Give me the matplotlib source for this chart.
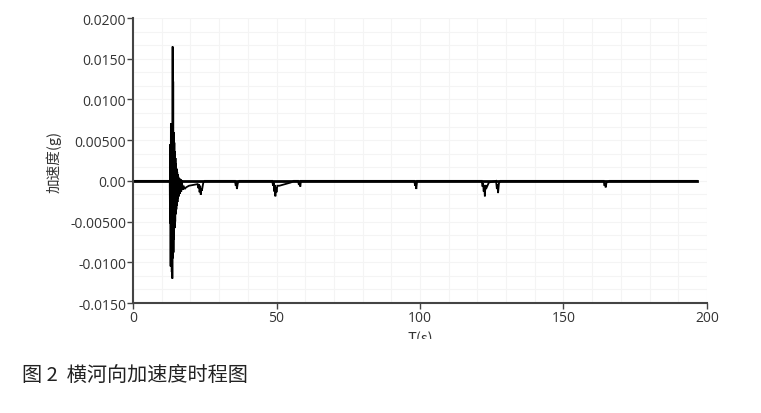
import matplotlib
matplotlib.use('Agg')
import matplotlib.pyplot as plt
from matplotlib.ticker import MultipleLocator, FixedLocator
from matplotlib.patches import Rectangle

plt.rcParams['font.family'] = ['Noto Sans CJK SC', 'DejaVu Sans']

# 时间 (s) 与加速度 (g)
t_vals = [0, 12.5, 12.8, 12.9, 13.0, 13.1, 13.2, 13.3, 13.4, 13.5, 13.6, 13.7, 13.8, 13.9,
          14.0, 14.1, 14.2, 14.3, 14.4, 14.5, 14.6, 14.7, 14.8, 14.9, 15.0, 15.1,
          15.2, 15.3, 15.4, 15.5, 15.6, 15.7, 15.8, 16.0, 16.2, 16.4, 16.6, 16.8,
          17.0, 17.3, 17.6, 18.0, 18.5, 19.5, 21.0, 22.5,
          22.8, 23.0, 23.2, 23.4, 23.6, 23.8, 24.0, 24.5,
          25.0, 35.5, 35.8, 36.0, 36.2, 36.5, 37.0,
          48.5, 48.8, 49.0, 49.2, 49.4, 49.6, 49.8, 50.0, 50.3, 51.0, 53.0, 55.0,
          56.0, 57.5, 57.8, 58.0, 58.3, 58.5,
          98.0, 98.3, 98.5, 98.7, 99.0,
          121.5, 121.8, 122.0, 122.2, 122.4, 122.6, 122.8, 123.0,
          124.0, 126.5, 126.8, 127.0, 127.2, 127.5, 128.0,
          164.0, 164.3, 164.5, 164.7, 165.0, 166.0, 196.5]
acc_vals = [0, 0, 0, -0.0052, 0.0045, -0.0105, 0.0071, -0.0098, 0.0058, -0.0112, 0.0049,
            -0.0120, 0.0165, -0.0095, 0.0122, -0.0088, 0.0060, -0.0072, 0.0047,
            -0.0058, 0.0036, -0.0050, 0.0028, -0.0041, 0.0021, -0.0035, 0.0015,
            -0.0030, 0.0011, -0.0026, 0.0008, -0.0022, 0.0005, -0.0019, 0.0003,
            -0.0016, 0.0002, -0.0013, 0.0001, -0.0011, -0.0006, -0.0010, -0.0008,
            -0.0006, -0.0005, -0.0004,
            -0.0009, -0.0004, -0.0014, -0.0006, -0.0017, -0.0009, -0.0012, -0.0002,
            0, 0, -0.0006, -0.0002, -0.0010, -0.0003, 0,
            0, -0.0006, -0.0002, -0.0013, -0.0005, -0.0019, -0.0008, -0.0014, -0.0006,
            -0.0006, -0.0004, -0.0002,
            0, 0, -0.0005, -0.0002, -0.0007, 0,
            0, -0.0006, -0.0002, -0.0010, 0,
            0, -0.0007, -0.0003, -0.0013, -0.0006, -0.0019, -0.0005, -0.0010,
            -0.0002, 0, -0.0010, -0.0004, -0.0015, -0.0003, 0,
            0, -0.0006, -0.0003, -0.0008, -0.0002, 0, 0]

y_ticks = [-0.015, -0.01, -0.005, 0.0, 0.005, 0.01, 0.015, 0.02]
y_labels = ['-0.0150', '-0.0100', '-0.00500', '0.00', '0.00500', '0.0100', '0.0150', '0.0200']
x_ticks = [0, 50, 100, 150, 200]

fig = plt.figure(figsize=(7.61, 4.14), dpi=100)
ax = fig.add_axes([0.1748, 0.2657, 0.7542, 0.6884])

ax.plot(t_vals, acc_vals, color='black', lw=1.3, solid_joinstyle='miter')
ax.plot([0, 196.5], [0, 0], color='black', lw=2.0)

ax.set_xlim(0, 200)
ax.set_ylim(-0.015, 0.02)
ax.xaxis.set_major_locator(FixedLocator(x_ticks))
ax.xaxis.set_minor_locator(MultipleLocator(10))
ax.yaxis.set_major_locator(FixedLocator(y_ticks))
ax.yaxis.set_minor_locator(MultipleLocator(0.005 / 3))
ax.set_yticklabels(y_labels)

ax.grid(which='both', color='#f4f4f4', lw=0.8)
ax.set_axisbelow(True)

for s in ['top', 'right']:
    ax.spines[s].set_visible(False)
for s in ['left', 'bottom']:
    ax.spines[s].set_color('#444444')
    ax.spines[s].set_linewidth(1.5)

ax.tick_params(which='major', direction='out', length=4, width=1, color='#444444',
               labelsize=10, labelcolor='#333333', pad=1)
ax.tick_params(which='minor', length=0)
for lab in ax.get_xticklabels() + ax.get_yticklabels():
    lab.set_family(['Open Sans', 'DejaVu Sans'])

ax.set_ylabel('加速度(g)', fontsize=10.5, color='#333333', labelpad=6)
ax.set_xlabel('T(s)', fontsize=10.5, color='#333333', labelpad=4)

# 原图在此处被裁切
fig.patches.append(Rectangle((0, 0), 1, 1 - 340 / 414, transform=fig.transFigure,
                             facecolor='white', edgecolor='none', zorder=5))

fig.text(22 / 761, 1 - 375 / 414, '图 2  横河向加速度时程图', fontsize=14.5,
         color='#222222', va='center', ha='left', zorder=6)

fig.savefig('out.png', dpi=100, facecolor='white')
plt.close('all')
